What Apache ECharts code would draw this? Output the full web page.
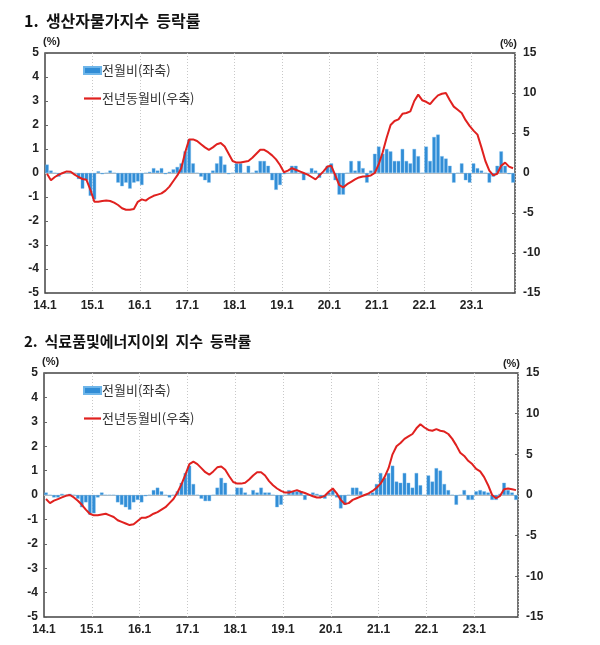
<!DOCTYPE html>
<html>
<head>
<meta charset="utf-8">
<script src="https://cdn.jsdelivr.net/npm/echarts@6/dist/echarts.min.js"></script>
<style>
  html, body { margin: 0; padding: 0; background: #fff; }
  #chart { width: 600px; height: 645px; }
</style>
</head>
<body>
<div id="chart"></div>
<script>
// months 2014.1 .. 2023.11
const months = []
for (let y = 14; y <= 23; y++) {
  for (let m = 1; m <= 12; m++) {
    if (y === 23 && m > 11) break
    months.push(y + '.' + m)
  }
}

const titles = ['1.  생산자물가지수  등락률', '2.  식료품및에너지이외  지수  등락률']
const momName = '전월비(좌축)'
const yoyName = '전년동월비(우축)'

// 1. 생산자물가지수 - 전월비 (%)
const ppiMoM = [
  0.35, 0.1, 0.0, -0.15, 0.0, 0.0, 0.0, 0.0, -0.25, -0.65, -0.3, -0.95,
  -1.1, 0.07, -0.05, 0.0, 0.1, 0.0, -0.4, -0.55, -0.4, -0.65, -0.4, -0.35,
  -0.5, 0.0, 0.05, 0.2, 0.1, 0.2, -0.05, 0.05, 0.15, 0.25, 0.4, 0.9,
  1.4, 0.4, 0.0, -0.15, -0.3, -0.4, 0.1, 0.4, 0.7, 0.35, -0.05, 0.0,
  0.4, 0.4, 0.0, 0.3, 0.0, 0.1, 0.5, 0.5, 0.3, -0.3, -0.7, -0.5,
  -0.05, 0.0, 0.3, 0.3, 0.0, -0.3, 0.0, 0.2, 0.1, -0.2, 0.0, 0.3,
  0.4, -0.3, -0.9, -0.9, 0.0, 0.5, 0.1, 0.5, 0.2, -0.4, 0.1, 0.8,
  1.1, 0.8, 1.0, 0.9, 0.5, 0.5, 1.0, 0.5, 0.4, 1.0, 0.7, 0.0,
  1.1, 0.5, 1.5, 1.6, 0.7, 0.6, 0.3, -0.4, 0.0, 0.4, -0.3, -0.4,
  0.4, 0.2, 0.1, 0.0, -0.4, -0.15, 0.3, 0.9, 0.3, -0.05, -0.4
]
// 1. 생산자물가지수 - 전년동월비 (%)
const ppiYoY = [
  -0.1, -0.9, -0.5, -0.2, 0.0, 0.2, 0.15, -0.2, -0.5, -0.75, -0.85, -2.1,
  -3.6, -3.6, -3.5, -3.45, -3.5, -3.7, -4.0, -4.4, -4.6, -4.6, -4.5, -3.6,
  -3.3, -3.45, -3.1, -2.85, -2.7, -2.55, -2.2, -1.7, -1.0, -0.3, 0.6, 2.6,
  4.2, 4.2, 4.0, 3.6, 3.2, 2.9, 3.2, 3.6, 3.75, 3.3, 2.4, 1.5,
  1.3, 1.3, 1.4, 1.5, 1.9, 2.4, 2.9, 2.9, 2.6, 2.2, 1.7, 1.0,
  0.1, 0.3, 0.6, 0.4, 0.2, 0.0, -0.2, -0.5, -0.8, -0.3, 0.2, 0.8,
  0.9, -0.3, -1.5, -1.8, -1.4, -1.1, -0.8, -0.55, -0.45, -0.4, -0.3, 0.0,
  1.1, 2.6, 4.4, 6.0, 6.5, 6.7, 7.4, 7.5, 7.7, 9.0, 9.8, 9.1,
  8.9, 8.6, 9.2, 9.7, 9.9, 10.0, 9.1, 8.3, 7.9, 7.5, 6.6, 5.9,
  5.3, 4.8, 3.2, 1.5, 0.3, -0.3, -0.1, 0.9, 1.3, 0.8, 0.6
]
// 2. 식료품및에너지이외 - 전월비 (%)
const coreMoM = [
  0.1, 0.0, -0.1, -0.1, 0.05, 0.0, 0.05, 0.0, -0.15, -0.5, -0.3, -0.8,
  -0.75, -0.1, 0.1, 0.0, 0.0, 0.0, -0.3, -0.4, -0.5, -0.6, -0.3, -0.2,
  -0.3, -0.05, 0.0, 0.2, 0.3, 0.15, 0.0, -0.1, 0.0, 0.15, 0.5, 0.9,
  1.2, 0.45, 0.0, -0.15, -0.25, -0.25, 0.0, 0.3, 0.7, 0.5, 0.0, 0.0,
  0.3, 0.3, 0.1, 0.0, 0.2, 0.1, 0.3, 0.1, 0.1, 0.0, -0.5, -0.4,
  0.0, 0.2, 0.15, 0.15, 0.15, -0.2, 0.0, 0.1, 0.05, -0.1, -0.15, 0.1,
  0.2, -0.1, -0.55, -0.4, 0.0, 0.3, 0.3, 0.15, 0.0, 0.05, 0.1, 0.45,
  0.9, 0.7, 0.9, 1.2, 0.55, 0.5, 0.9, 0.5, 0.3, 0.9, 0.4, 0.0,
  0.8, 0.55, 1.1, 1.0, 0.45, 0.2, 0.0, -0.4, 0.0, 0.2, -0.2, -0.2,
  0.15, 0.2, 0.15, 0.1, -0.2, -0.2, 0.05, 0.5, 0.2, 0.1, -0.2
]
// 2. 식료품및에너지이외 - 전년동월비 (%)
const coreYoY = [
  -0.5, -1.0, -0.7, -0.5, -0.3, -0.1, 0.0, -0.3, -0.7, -1.2, -1.8, -2.3,
  -2.5, -2.5, -2.4, -2.3, -2.5, -2.7, -3.1, -3.3, -3.5, -3.7, -3.6, -3.2,
  -2.8, -2.8, -2.6, -2.3, -2.1, -1.8, -1.5, -1.0, -0.5, 0.3, 1.3, 2.5,
  3.8, 4.1, 3.8, 3.3, 2.8, 2.5, 2.9, 3.4, 3.5, 3.1, 2.3, 1.6,
  1.4, 1.4, 1.5, 1.9, 2.4, 2.8, 2.8, 2.4, 1.7, 1.2, 0.8, 0.5,
  0.3, 0.3, 0.45, 0.6, 0.4, 0.25, 0.05, -0.15, -0.3, -0.3, -0.1, 0.4,
  0.8, 0.2, -0.6, -1.1, -1.0, -0.6, -0.4, -0.2, 0.0, 0.2, 0.5, 0.9,
  1.4, 2.2, 3.3, 5.0, 6.0, 6.4, 6.9, 7.2, 7.5, 8.2, 8.7, 8.3,
  8.0, 7.9, 8.1, 7.9, 7.8, 7.5, 6.9, 6.1, 5.2, 4.8, 4.2, 3.8,
  3.2, 2.9, 2.2, 1.2, 0.0, -0.4, -0.1, 0.7, 0.8, 0.7, 0.6
]

const NUM_FONT = "'Liberation Sans', Arial, 'Noto Sans CJK KR', sans-serif"
const KR_FONT = "'Noto Sans CJK KR', 'Liberation Sans', sans-serif"
const BAR_COLOR = '#318dd6'
const LINE_COLOR = '#e0211f'

const panels = [
  { top: 53, height: 240, left: 45, right: 85, mom: ppiMoM, yoy: ppiYoY, titleTop: 8, titleSize: 16 },
  { top: 373, height: 244, left: 44, right: 82, mom: coreMoM, yoy: coreYoY, titleTop: 329, titleSize: 15 }
]

const chart = echarts.init(document.getElementById('chart'), null, { renderer: 'canvas' })

const option = {
  animation: false,
  backgroundColor: '#fff',
  textStyle: { fontFamily: NUM_FONT },
  title: panels.map((p, i) => ({
    text: titles[i],
    left: 19,
    top: p.titleTop,
    textStyle: { fontFamily: KR_FONT, fontSize: p.titleSize, fontWeight: 'bold', color: '#111' }
  })),
  legend: panels.map((p, i) => ({
    orient: 'vertical',
    left: 78,
    top: p.top + 6,
    itemWidth: 17,
    itemHeight: 7,
    itemGap: 15,
    symbolKeepAspect: true,
    data: [
      { name: momName, icon: 'rect' },
      { name: yoyName, icon: 'path://M0,0h17v2.2h-17z' }
    ],
    textStyle: { fontFamily: KR_FONT, fontSize: 13, color: '#333', padding: [0, 0, 0, -4] },
    selectedMode: false
  })),
  grid: panels.map(p => ({
    top: p.top,
    height: p.height,
    left: p.left,
    right: p.right,
    show: true,
    borderColor: '#444',
    borderWidth: 1.5,
    backgroundColor: 'transparent'
  })),
  xAxis: panels.map((p, i) => ({
    type: 'category',
    gridIndex: i,
    data: months,
    boundaryGap: true,
    axisLine: { show: false },
    axisTick: { show: false },
    axisLabel: {
      interval: (idx) => idx % 12 === 0,
      fontSize: 12,
      fontWeight: 'bold',
      color: '#222',
      margin: 7,
      padding: [0, 4, 0, 0]
    },
    splitLine: {
      show: true,
      interval: (idx) => idx % 12 === 0 && idx > 0,
      lineStyle: { color: '#c8c8c8', type: [1, 2], width: 1 }
    }
  })),
  yAxis: panels.flatMap((p, i) => ([
    {
      type: 'value',
      gridIndex: i,
      min: -5, max: 5, interval: 1,
      name: '(%)',
      nameLocation: 'end',
      nameGap: 4,
      nameTextStyle: { fontSize: 11, fontWeight: 'bold', color: '#222', align: 'left', padding: [0, 0, 0, -2] },
      axisLine: { show: false },
      axisTick: { show: true, inside: true, length: 3, lineStyle: { color: '#666' } },
      axisLabel: { fontSize: 12, fontWeight: 'bold', color: '#222', margin: 6 },
      splitLine: { show: false }
    },
    {
      type: 'value',
      gridIndex: i,
      position: 'right',
      min: -15, max: 15, interval: 5,
      name: '(%)',
      nameLocation: 'end',
      nameGap: 4,
      nameTextStyle: { fontSize: 11, fontWeight: 'bold', color: '#222', align: 'right', padding: [0, -2, 0, 0] },
      axisLine: { show: false },
      axisTick: { show: true, inside: true, length: 3, lineStyle: { color: '#666' } },
      axisLabel: { fontSize: 12, fontWeight: 'bold', color: '#222', margin: 8 },
      splitLine: { show: false }
    }
  ])),
  series: panels.flatMap((p, i) => ([
    {
      name: momName,
      type: 'bar',
      xAxisIndex: i,
      yAxisIndex: i * 2,
      data: p.mom,
      barCategoryGap: '12%',
      itemStyle: { color: BAR_COLOR, borderColor: '#6fb6ea', borderWidth: 0.4 },
      markLine: {
        silent: true,
        symbol: 'none',
        label: { show: false },
        lineStyle: { color: '#bdbdbd', type: 'solid', width: 1 },
        data: [{ yAxis: 0 }],
        z: 1
      },
      z: 2
    },
    {
      name: yoyName,
      type: 'line',
      xAxisIndex: i,
      yAxisIndex: i * 2 + 1,
      data: p.yoy,
      symbol: 'none',
      showSymbol: false,
      lineStyle: { color: LINE_COLOR, width: 2 },
      itemStyle: { color: LINE_COLOR },
      z: 3
    }
  ]))
}

chart.setOption(option)
</script>
</body>
</html>
